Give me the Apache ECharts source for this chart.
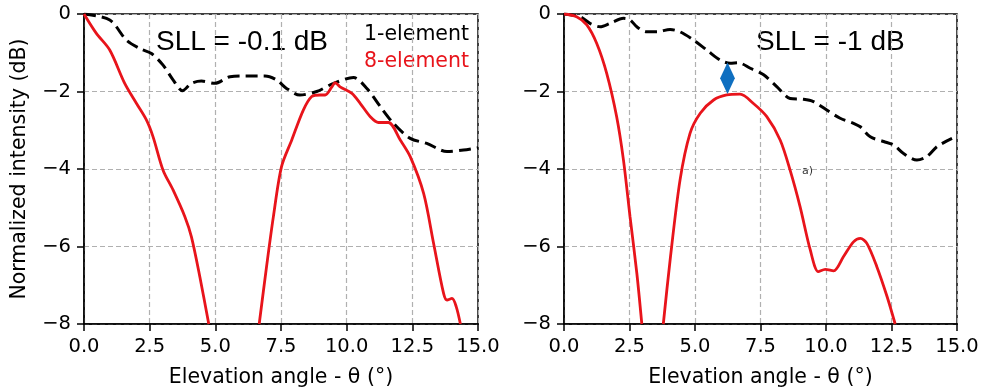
<!DOCTYPE html>
<html><head><meta charset="utf-8">
<script src="https://cdn.jsdelivr.net/npm/echarts@6/dist/echarts.min.js"></script>
<style>html,body{margin:0;padding:0;background:#fff}#c{width:982px;height:388px}</style>
</head><body><div id="c"></div>
<script>
// Left panel (SLL = -0.1 dB)
const leftOne = [[0,0],[0.98,-0.155],[1.61,-0.67],[2.12,-0.89],[2.57,-1.02],[3.01,-1.32],[3.39,-1.70],[3.75,-1.98],[4.09,-1.79],[4.47,-1.73],[4.98,-1.79],[5.56,-1.62],[6.19,-1.60],[6.89,-1.60],[7.33,-1.70],[7.71,-1.92],[8.22,-2.09],[8.86,-2.00],[9.50,-1.79],[10.26,-1.64],[10.77,-1.92],[11.28,-2.39],[11.78,-2.82],[12.42,-3.21],[13.05,-3.34],[13.82,-3.55],[14.45,-3.51],[15,-3.45]];
const leftEight = [[0,0],[0.47,-0.50],[0.98,-0.93],[1.55,-1.79],[2.0,-2.31],[2.38,-2.74],[2.63,-3.17],[3.01,-4.03],[3.39,-4.54],[3.84,-5.23],[4.09,-5.75],[4.41,-6.78],[4.75,-8.0],null,[6.67,-8.0],[6.95,-6.52],[7.21,-5.23],[7.52,-3.94],[7.91,-3.25],[8.35,-2.48],[8.67,-2.13],[8.99,-2.09],[9.18,-2.09],[9.43,-1.89],[9.56,-1.77],[9.75,-1.88],[10.20,-2.05],[10.52,-2.31],[10.90,-2.65],[11.21,-2.80],[11.59,-2.80],[12.04,-3.25],[12.42,-3.68],[12.93,-4.63],[13.31,-5.92],[13.69,-7.21],[13.82,-7.38],[14.01,-7.34],[14.17,-7.55],[14.33,-8.0]];
// Right panel (SLL = -1 dB)
const rightOne = [[0,0],[0.61,-0.07],[0.99,-0.24],[1.38,-0.33],[1.76,-0.24],[2.27,-0.11],[2.52,-0.15],[2.78,-0.33],[3.16,-0.46],[3.54,-0.46],[4.05,-0.40],[4.43,-0.46],[4.94,-0.67],[5.45,-0.93],[5.96,-1.19],[6.34,-1.27],[6.66,-1.26],[7.11,-1.40],[7.62,-1.57],[8.13,-1.88],[8.63,-2.18],[9.14,-2.20],[9.52,-2.26],[10.03,-2.48],[10.54,-2.69],[11.05,-2.82],[11.31,-2.91],[11.69,-3.17],[12.20,-3.29],[12.58,-3.38],[12.96,-3.60],[13.47,-3.77],[13.85,-3.68],[14.24,-3.42],[14.81,-3.21]];
const rightEight = [[0,0],[0.48,-0.07],[0.87,-0.28],[1.25,-0.76],[1.63,-1.53],[2.01,-2.65],[2.27,-3.77],[2.52,-5.23],[2.78,-6.69],[2.97,-8.0],null,[3.79,-8.0],[4.05,-6.35],[4.43,-4.28],[4.81,-3.08],[5.20,-2.56],[5.71,-2.22],[6.21,-2.09],[6.72,-2.07],[7.23,-2.31],[7.74,-2.65],[8.25,-3.25],[8.63,-4.03],[9.01,-4.97],[9.40,-6.09],[9.71,-6.65],[9.97,-6.59],[10.29,-6.63],[10.67,-6.26],[11.05,-5.88],[11.31,-5.79],[11.56,-5.92],[11.94,-6.52],[12.33,-7.29],[12.64,-8.0]];
// double-headed arrow (symbol anchors; heads reach about -1.25 and -2.07)
const arrowSpan = [[6.24,-1.46],[6.24,-1.86]];
const xTicks = {min:0,max:15,interval:2.5};
const yTicks = {min:-8,max:0,interval:2};
const sllLeft = 'SLL = -0.1 dB', sllRight = 'SLL = -1 dB';
const xTitle = 'Elevation angle - θ (°)', yTitle = 'Normalized intensity (dB)';

const RED = '#e8141b';
const font = 'DejaVu Sans';
const gridLine = {show:true,lineStyle:{color:'#b0b0b0',type:[5,3],width:1.2}};
function xAx(i){return {type:'value',gridIndex:i,min:xTicks.min,max:xTicks.max,interval:xTicks.interval,
  name:xTitle,nameLocation:'middle',nameGap:43,nameTextStyle:{fontFamily:font,fontSize:20.5,color:'#000'},
  axisLine:{show:true,onZero:false,lineStyle:{color:'#000',width:1.5}},axisTick:{show:true,length:7,lineStyle:{color:'#000',width:1.5}},
  axisLabel:{fontFamily:font,fontSize:19.5,color:'#000',margin:13,formatter:v=>v.toFixed(1)},
  splitLine:gridLine};}
function yAx(i,named){return {type:'value',gridIndex:i,min:yTicks.min,max:yTicks.max,interval:yTicks.interval,
  name:named?yTitle:'',nameLocation:'middle',nameGap:54,nameTextStyle:{fontFamily:font,fontSize:20.5,color:'#000'},
  axisLine:{show:true,lineStyle:{color:'#000',width:1.5}},axisTick:{show:true,length:7,lineStyle:{color:'#000',width:1.5}},
  axisLabel:{fontFamily:font,fontSize:19.5,color:'#000',margin:13,formatter:v=>v===0?'0':(v<0?'\u2212'+(-v):String(v))},
  splitLine:gridLine};}
function line(data,i,dashed){return {type:'line',xAxisIndex:i,yAxisIndex:i,data:data,showSymbol:false,symbol:'none',smooth:0.3,clip:true,connectNulls:false,
  lineStyle:dashed?{color:'#000',width:3,type:[12,6]}:{color:RED,width:2.8},z:dashed?3:4};}

const chart = echarts.init(document.getElementById('c'),null,{renderer:'canvas'});
const arrowSeries = {type:'line',xAxisIndex:1,yAxisIndex:1,data:[],z:6,
  markLine:{silent:true,symbol:['triangle','triangle'],symbolSize:[15,16],label:{show:false},
    lineStyle:{color:'#0f6fc0',width:1,type:'solid'},itemStyle:{color:'#0f6fc0'},
    data:[[{coord:arrowSpan[0]},{coord:arrowSpan[1]}]]}};
chart.setOption({
  animation:false,
  grid:[{left:84,top:14,width:394,height:310,show:true,borderColor:'#000',borderWidth:1.5,containLabel:false,outerBoundsMode:'none'},
        {left:564,top:14,width:393,height:310,show:true,borderColor:'#000',borderWidth:1.5,containLabel:false,outerBoundsMode:'none'}],
  xAxis:[xAx(0),xAx(1)],
  yAxis:[yAx(0,true),yAx(1,false)],
  series:[line(leftOne,0,true),line(leftEight,0,false),line(rightOne,1,true),line(rightEight,1,false),arrowSeries],
  graphic:[
    {type:'text',left:156,top:28,style:{text:sllLeft,fontFamily:'Liberation Sans',fontSize:28,fill:'#000'}},
    {type:'text',left:756,top:28,style:{text:sllRight,fontFamily:'Liberation Sans',fontSize:28,fill:'#000'}},
    {type:'text',right:513,top:24,style:{text:'1-element',fontFamily:font,fontSize:20.5,fill:'#000'}},
    {type:'text',right:513,top:51,style:{text:'8-element',fontFamily:font,fontSize:20.5,fill:RED}},
    {type:'text',left:802,top:166,style:{text:'a)',fontFamily:font,fontSize:11,fill:'#333'}}
  ]
});
</script></body></html>
